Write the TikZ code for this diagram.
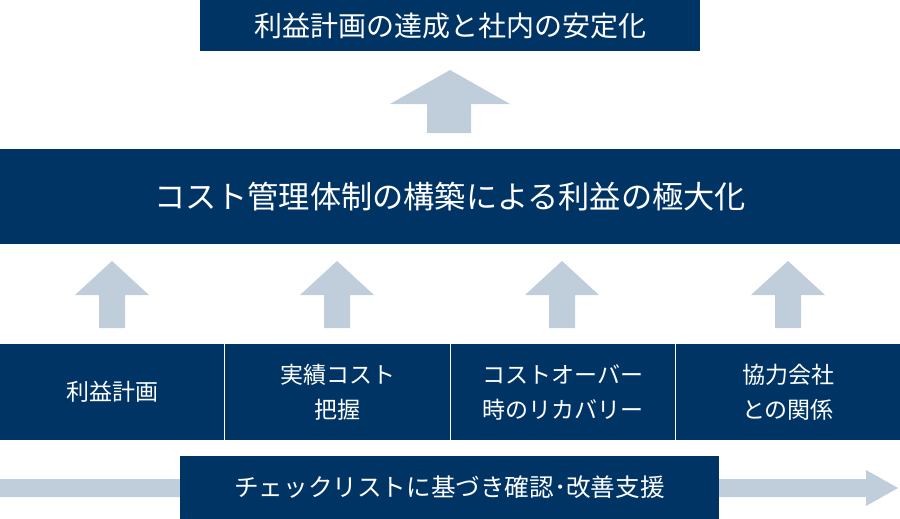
\documentclass[tikz,border=0pt]{standalone}
\usepackage{fontspec}
\setmainfont{Noto Sans CJK JP}
\definecolor{navy}{RGB}{0,52,101}
\definecolor{arrowc}{RGB}{192,205,219}
\tikzset{
  navybox/.style={fill=navy, text=white, inner sep=0pt, outer sep=0pt, align=center},
  blockarrow/.style={fill=arrowc, draw=none},
}
\begin{document}
\begin{tikzpicture}[x=1pt,y=-1pt]
\useasboundingbox (0,0) rectangle (900,519);
% top box
\node[navybox, minimum width=500pt, minimum height=51pt, font=\fontsize{28}{34}\selectfont] (top) at (450,25.5) {利益計画の達成と社内の安定化};
% top arrow
\coordinate (ta) at (450,70);
\fill[blockarrow] (ta) -- (510,104) -- (471,104) -- (471,133) -- (427,133) -- (427,104) -- (390,104) -- cycle;
% middle box
\node[navybox, minimum width=900pt, minimum height=95pt, font=\fontsize{31.2}{36}\selectfont] (mid) at (450,196.5) {コスト管理体制の構築による利益の極大化};
% small arrows
\foreach \cx in {112,337,562,788}{
  \fill[blockarrow] (\cx,261) -- (\cx+37,295) -- (\cx+13,295) -- (\cx+13,328) -- (\cx-13,328) -- (\cx-13,295) -- (\cx-37,295) -- cycle;
}
% bottom boxes
\tikzset{lab/.style={navybox, minimum height=96pt, font=\fontsize{23}{35}\selectfont}}
\node[lab, minimum width=224pt] (b1) at (112,392) {利益計画};
\node[lab, minimum width=225pt] (b2) at (337.5,392) {実績コスト\\把握};
\node[lab, minimum width=224pt] (b3) at (563,392) {コストオーバー\\時のリカバリー};
\node[lab, minimum width=224pt] (b4) at (788,392) {協力会社\\との関係};
% bottom arrow
\fill[blockarrow] (0,479) -- (866,479) -- (866,470) -- (898,488) -- (866,506) -- (866,497) -- (0,497) -- cycle;
\node[navybox, minimum width=539pt, minimum height=63pt, font=\fontsize{24.6}{30}\selectfont] (chk) at (449.5,487.5) {チェックリストに基づき確認･改善支援};
\end{tikzpicture}
\end{document}
